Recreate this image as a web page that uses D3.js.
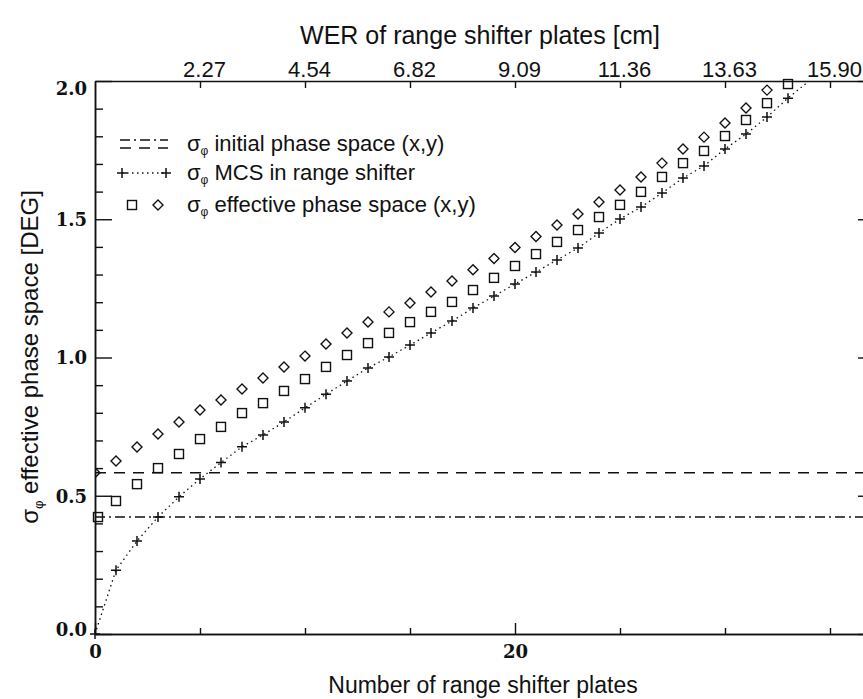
<!DOCTYPE html>
<html>
<head>
<meta charset="utf-8">
<script src="https://cdn.jsdelivr.net/npm/d3@7"></script>
<style>
  body { margin: 0; background: #fff; }
  svg { display: block; }
</style>
</head>
<body>
<svg id="chart" width="863" height="699"></svg>
<script>
// Number of range shifter plates for each series
const platesMCS = [0,1,2,3,4,5,6,7,8,9,10,11,12,13,14,15,16,17,18,19,20,21,22,23,24,25,26,27,28,29,30,31,32,33,34];
const platesX   = [0,1,2,3,4,5,6,7,8,9,10,11,12,13,14,15,16,17,18,19,20,21,22,23,24,25,26,27,28,29,30,31,32,33];
const platesY   = [0,1,2,3,4,5,6,7,8,9,10,11,12,13,14,15,16,17,18,19,20,21,22,23,24,25,26,27,28,29,30,31,32,33];

// sigma_phi from multiple Coulomb scattering in the range shifter [deg]
const sigmaMCS = [0.000,0.231,0.336,0.423,0.496,0.561,0.620,0.677,0.720,0.767,0.818,0.867,0.915,0.962,1.002,1.045,1.089,1.132,1.179,1.222,1.266,1.309,1.353,1.396,1.450,1.501,1.544,1.595,1.649,1.693,1.754,1.808,1.870,1.938,2.000];
// effective phase space sigma_phi, x plane (squares) and y plane (diamonds) [deg]
const sigmaEffX = [0.423,0.481,0.542,0.600,0.651,0.705,0.749,0.799,0.835,0.879,0.922,0.966,1.009,1.052,1.089,1.128,1.165,1.201,1.244,1.288,1.331,1.374,1.418,1.461,1.508,1.552,1.599,1.653,1.703,1.747,1.801,1.859,1.920,1.989];
const sigmaEffY = [0.583,0.626,0.676,0.723,0.767,0.810,0.846,0.886,0.926,0.966,1.005,1.049,1.089,1.128,1.165,1.197,1.237,1.277,1.317,1.358,1.398,1.438,1.479,1.519,1.562,1.606,1.653,1.703,1.754,1.797,1.848,1.902,1.967,2.024];
// initial phase space sigma_phi [deg]
const sigmaInitX = 0.423;
const sigmaInitY = 0.583;

// axis ticks
const bottomMajor = [0, 20];
const bottomMinor = [5, 10, 15, 25, 30, 35];
const leftMajor = [0, 0.5, 1.0, 1.5, 2.0];
const leftMinor = [0.1,0.2,0.3,0.4,0.6,0.7,0.8,0.9,1.1,1.2,1.3,1.4,1.6,1.7,1.8,1.9];
const topTickPlates = [5, 10, 15, 20, 25, 30, 35];
const topTickLabels = ["2.27", "4.54", "6.82", "9.09", "11.36", "13.63", "15.90"];

const svg = d3.select("#chart");
const L = 95, R = 872, T = 81, B = 634;
const x = d3.scaleLinear().domain([0, 37]).range([L, R]);
const y = d3.scaleLinear().domain([0, 2]).range([B, T]);

const serif = "'DejaVu Serif', serif";
const sans = "'Liberation Sans', Arial, sans-serif";
const ink = "#111";

svg.append("defs").append("clipPath").attr("id", "plotClip")
  .append("rect").attr("x", L).attr("y", T).attr("width", R - L).attr("height", B - T);

function styleAxis(g) {
  g.select(".domain").attr("stroke", ink).attr("stroke-width", 1.5);
  g.selectAll(".tick line").attr("stroke", ink).attr("stroke-width", 1.4);
  g.selectAll("text").attr("fill", ink);
}

// bottom axis
svg.append("g").attr("transform", `translate(0,${B})`)
  .call(d3.axisBottom(x).tickValues(bottomMajor).tickSizeInner(-11).tickSizeOuter(0).tickPadding(11).tickFormat(d3.format("d")))
  .call(styleAxis)
  .call(g => g.selectAll("text").attr("font-family", serif).attr("font-size", 18).attr("font-weight", "bold"));
svg.append("g").attr("transform", `translate(0,${B})`)
  .call(d3.axisBottom(x).tickValues(bottomMinor).tickSizeInner(-6).tickSizeOuter(0).tickFormat(""))
  .call(styleAxis);

// top axis (water equivalent range)
svg.append("g").attr("transform", `translate(0,${T})`)
  .call(d3.axisTop(x).tickValues(topTickPlates).tickSizeInner(-7).tickSizeOuter(0).tickPadding(4)
    .tickFormat((d, i) => topTickLabels[i]))
  .call(styleAxis)
  .call(g => g.selectAll("text").attr("font-family", sans).attr("font-size", 22).attr("dx", 4));

// left axis
svg.append("g").attr("transform", `translate(${L},0)`)
  .call(d3.axisLeft(y).tickValues(leftMajor).tickSizeInner(-17).tickSizeOuter(0).tickPadding(8).tickFormat(d3.format(".1f")))
  .call(styleAxis)
  .call(g => g.selectAll("text").attr("font-family", serif).attr("font-size", 18).attr("font-weight", "bold")
    .attr("dy", d => d === 2 ? "0.75em" : (d === 0 ? "0.1em" : "0.36em")));
svg.append("g").attr("transform", `translate(${L},0)`)
  .call(d3.axisLeft(y).tickValues(leftMinor).tickSizeInner(-8).tickSizeOuter(0).tickFormat(""))
  .call(styleAxis);

// right axis
svg.append("g").attr("transform", `translate(${R},0)`)
  .call(d3.axisRight(y).tickValues(leftMajor).tickSizeInner(-14).tickSizeOuter(0).tickFormat(""))
  .call(styleAxis);
svg.append("g").attr("transform", `translate(${R},0)`)
  .call(d3.axisRight(y).tickValues(leftMinor).tickSizeInner(-7).tickSizeOuter(0).tickFormat(""))
  .call(styleAxis);

// axis titles
svg.append("text").attr("x", 480).attr("y", 44).attr("text-anchor", "middle")
  .attr("font-family", sans).attr("font-size", 25).attr("fill", ink)
  .text("WER of range shifter plates [cm]");
svg.append("text").attr("x", 483).attr("y", 693).attr("text-anchor", "middle")
  .attr("font-family", sans).attr("font-size", 23).attr("fill", ink)
  .text("Number of range shifter plates");
const yt = svg.append("text").attr("transform", "translate(38,357) rotate(-90)").attr("text-anchor", "middle")
  .attr("font-family", sans).attr("font-size", 24).attr("fill", ink);
yt.append("tspan").text("σ");
yt.append("tspan").attr("font-size", 13).attr("dy", 5).text("φ");
yt.append("tspan").attr("dy", -5).text(" effective phase space [DEG]");

const plot = svg.append("g").attr("clip-path", "url(#plotClip)");

// initial phase space levels
plot.append("line").attr("x1", x(0)).attr("x2", x(37)).attr("y1", y(sigmaInitY)).attr("y2", y(sigmaInitY))
  .attr("stroke", ink).attr("stroke-width", 1.4).attr("stroke-dasharray", "11,8");
plot.append("line").attr("x1", x(0)).attr("x2", x(37)).attr("y1", y(sigmaInitX)).attr("y2", y(sigmaInitX))
  .attr("stroke", ink).attr("stroke-width", 1.4).attr("stroke-dasharray", "10,4,2,4");

// MCS curve
const mcsData = platesMCS.map((p, i) => [p, sigmaMCS[i]]);
plot.append("path").datum(mcsData)
  .attr("d", d3.line().x(d => x(d[0])).y(d => y(d[1])))
  .attr("fill", "none").attr("stroke", ink).attr("stroke-width", 1.3).attr("stroke-dasharray", "1.5,3.5");

function plus(g, cx, cy) {
  g.append("path").attr("d", `M${cx - 5},${cy}H${cx + 5}M${cx},${cy - 5}V${cy + 5}`)
    .attr("stroke", ink).attr("stroke-width", 1.5).attr("fill", "none");
}
function square(g, cx, cy) {
  g.append("rect").attr("x", cx - 4.5).attr("y", cy - 4.5).attr("width", 9).attr("height", 9)
    .attr("fill", "none").attr("stroke", ink).attr("stroke-width", 1.4);
}
function diamond(g, cx, cy) {
  g.append("path").attr("d", `M${cx},${cy - 5}L${cx + 5},${cy}L${cx},${cy + 5}L${cx - 5},${cy}Z`)
    .attr("fill", "none").attr("stroke", ink).attr("stroke-width", 1.4);
}

const marks = svg.append("g");
mcsData.filter(d => d[1] < 2).forEach(d => plus(marks, x(d[0]), y(d[1])));
platesX.forEach((p, i) => { if (sigmaEffX[i] < 2) square(marks, x(p) + (p === 0 ? 3 : 0), y(sigmaEffX[i])); });
const diamG = svg.append("g").attr("clip-path", "url(#plotClip)");
platesY.forEach((p, i) => { if (sigmaEffY[i] < 2) diamond(diamG, x(p), y(sigmaEffY[i])); });

// legend
const lg = svg.append("g");
lg.append("line").attr("x1", 120).attr("x2", 168).attr("y1", 140).attr("y2", 140)
  .attr("stroke", ink).attr("stroke-width", 1.4).attr("stroke-dasharray", "10,4,2,4");
lg.append("line").attr("x1", 120).attr("x2", 168).attr("y1", 148).attr("y2", 148)
  .attr("stroke", ink).attr("stroke-width", 1.4).attr("stroke-dasharray", "11,8");
lg.append("line").attr("x1", 122).attr("x2", 166).attr("y1", 173).attr("y2", 173)
  .attr("stroke", ink).attr("stroke-width", 1.3).attr("stroke-dasharray", "1.5,3.5");
plus(lg, 122, 173); plus(lg, 166, 173);
square(lg, 132, 205); diamond(lg, 158, 205);

const legendText = [" initial phase space (x,y)", " MCS in range shifter", " effective phase space (x,y)"];
const legendY = [151, 180, 212];
legendText.forEach((t, i) => {
  const tx = lg.append("text").attr("x", 187).attr("y", legendY[i])
    .attr("font-family", sans).attr("font-size", 22).attr("fill", ink);
  tx.append("tspan").text("σ");
  tx.append("tspan").attr("font-size", 12).attr("dy", 4).text("φ");
  tx.append("tspan").attr("dy", -4).text(t);
});
</script>
</body>
</html>
